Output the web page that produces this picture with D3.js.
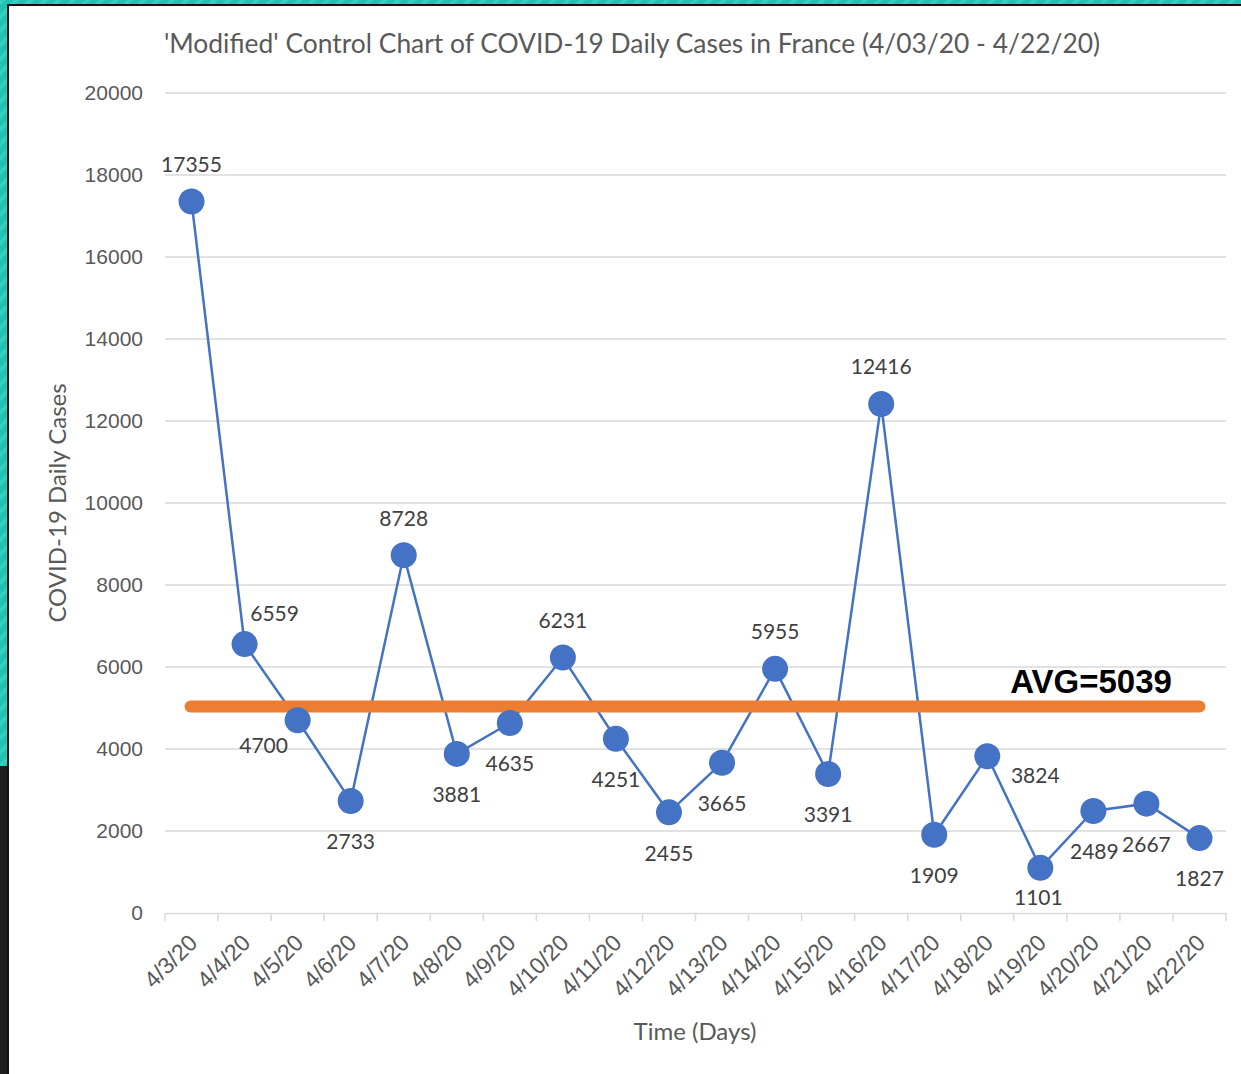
<!DOCTYPE html>
<html lang="en">
<head>
  <meta charset="UTF-8">
  <title>Control Chart COVID-19 France</title>
  <style>
    body { margin: 0; background: #fff; }
    svg { display: block; font-family: Lato, "Open Sans", sans-serif; }
    .grid line { stroke: #d9d9d9; stroke-width: 1.5; }
    .axis--y text { fill: #595959; font-size: 21px; }
    .axis--x text { fill: #595959; font-size: 23px; }
    .axis--x .domain { stroke: #d9d9d9; stroke-width: 1.5; }
    .tickmark { stroke: #d9d9d9; stroke-width: 1.5; }
    .series { fill: none; stroke: #4472c4; stroke-width: 2.5; }
    .dot { fill: #4472c4; }
    .valLabel { fill: #404040; font-size: 21px; text-anchor: middle; }
    .title { fill: #595959; font-size: 26.4px; text-anchor: middle; }
    .axTitle { fill: #595959; font-size: 24px; text-anchor: middle; }
    .avg { stroke: #ed7d31; stroke-width: 12; stroke-linecap: round; }
    .avgLabel { font-family: "Liberation Sans", Arial, sans-serif; font-weight: bold; font-size: 33px; fill: #000; text-anchor: middle; }
  </style>
  <script src="https://d3js.org/d3.v7.min.js"></script>
</head>
<body>
<div id="chart"></div>
<script>
/* global d3 */

var days = ["4/3/20", "4/4/20", "4/5/20", "4/6/20", "4/7/20", "4/8/20", "4/9/20",
  "4/10/20", "4/11/20", "4/12/20", "4/13/20", "4/14/20", "4/15/20", "4/16/20",
  "4/17/20", "4/18/20", "4/19/20", "4/20/20", "4/21/20", "4/22/20"];
var cases = [17355, 6559, 4700, 2733, 8728, 3881, 4635, 6231, 4251, 2455,
  3665, 5955, 3391, 12416, 1909, 3824, 1101, 2489, 2667, 1827];
var average = 5039;
var yTicks = [0, 2000, 4000, 6000, 8000, 10000, 12000, 14000, 16000, 18000, 20000];

// where each value label sits relative to its point (px)
var labelOffset = [[0, -37], [30, -30], [-34, 25], [0, 41], [0, -37], [0, 41], [0, 41],
  [0, -37], [0, 41], [0, 41], [0, 41], [0, -37], [0, 41], [0, -37],
  [0, 41], [48, 19], [-2, 30], [1, 41], [0, 41], [0, 41]];

var W = 1241, H = 1074;
var svg = d3.select("#chart").append("svg")
  .attr("width", W)
  .attr("height", H);

// frame: teal striped border with dark line
var defs = svg.append("defs");
var pat = defs.append("pattern")
  .attr("id", "stripes")
  .attr("patternUnits", "userSpaceOnUse")
  .attr("width", 10).attr("height", 10)
  .attr("patternTransform", "rotate(45)");
pat.append("rect").attr("width", 10).attr("height", 10).attr("fill", "#1fc2b3");
pat.append("rect").attr("width", 4).attr("height", 10).attr("fill", "#35cfc0");

svg.append("rect").attr("x", 0).attr("y", 0).attr("width", W).attr("height", 4)
  .attr("fill", "url(#stripes)");
svg.append("rect").attr("x", 0).attr("y", 0).attr("width", 7).attr("height", 766)
  .attr("fill", "url(#stripes)");
svg.append("rect").attr("x", 0).attr("y", 766).attr("width", 7).attr("height", H - 766)
  .attr("fill", "#1e1e1e");
svg.append("rect").attr("x", 7).attr("y", 4).attr("width", W - 7).attr("height", 2)
  .attr("fill", "#111");
svg.append("rect").attr("x", 7).attr("y", 4).attr("width", 2).attr("height", H - 4)
  .attr("fill", "#111");

var margin = {top: 93, left: 165, right: 15, bottom: 161};
var x = d3.scaleBand().domain(days).range([margin.left, W - margin.right]).padding(0);
var y = d3.scaleLinear().domain([0, 20000]).range([H - margin.bottom, margin.top]);

// gridlines
svg.append("g").attr("class", "grid")
  .selectAll("line")
  .data(yTicks.slice(1))
  .join("line")
  .attr("x1", margin.left).attr("x2", W - margin.right)
  .attr("y1", function (d) { return y(d); })
  .attr("y2", function (d) { return y(d); });

// y axis labels
var gy = svg.append("g").attr("class", "axis--y")
  .attr("transform", "translate(" + (margin.left - 22) + ",0)")
  .call(d3.axisLeft(y).tickValues(yTicks).tickFormat(d3.format("d")).tickSize(0).tickPadding(0));
gy.select(".domain").remove();

// x axis
var gx = svg.append("g").attr("class", "axis--x")
  .attr("transform", "translate(0," + y(0) + ")")
  .call(d3.axisBottom(x).tickSize(0).tickSizeOuter(0).tickPadding(0));
gx.selectAll(".tick text")
  .attr("text-anchor", "end")
  .attr("transform", "translate(-5,19) rotate(-45)")
  .attr("dy", "0.75em");

// boundary tick marks
var edges = days.map(function (d) { return x(d); }).concat([x(days[days.length - 1]) + x.bandwidth()]);
gx.selectAll(".tickmark")
  .data(edges)
  .join("line")
  .attr("class", "tickmark")
  .attr("x1", function (d) { return d; })
  .attr("x2", function (d) { return d; })
  .attr("y1", 0).attr("y2", 8);

var cx = function (d, i) { return x(days[i]) + x.bandwidth() / 2; };

// series line
svg.append("path")
  .attr("class", "series")
  .datum(cases)
  .attr("d", d3.line().x(cx).y(function (d) { return y(d); }));

// average line
svg.append("line")
  .attr("class", "avg")
  .attr("x1", cx(0, 0) - 1)
  .attr("x2", cx(0, days.length - 1))
  .attr("y1", y(average))
  .attr("y2", y(average));

svg.append("text")
  .attr("class", "avgLabel")
  .attr("x", 1091)
  .attr("y", y(average) - 13)
  .text("AVG=" + average);

// points
svg.append("g").selectAll("circle")
  .data(cases)
  .join("circle")
  .attr("class", "dot")
  .attr("cx", cx)
  .attr("cy", function (d) { return y(d); })
  .attr("r", 13);

// value labels
svg.append("g").selectAll("text")
  .data(cases)
  .join("text")
  .attr("class", "valLabel")
  .attr("x", function (d, i) { return cx(d, i) + labelOffset[i][0]; })
  .attr("y", function (d, i) { return y(d) + labelOffset[i][1]; })
  .attr("dy", "0.35em")
  .text(function (d) { return d; });

// titles
svg.append("text")
  .attr("class", "title")
  .attr("x", 632)
  .attr("y", 53)
  .text("'Modified' Control Chart of COVID-19 Daily Cases in France (4/03/20 - 4/22/20)");

svg.append("text")
  .attr("class", "axTitle")
  .attr("x", 695)
  .attr("y", 1040)
  .text("Time (Days)");

svg.append("text")
  .attr("class", "axTitle")
  .attr("transform", "translate(66,503) rotate(-90)")
  .text("COVID-19 Daily Cases");
</script>
</body>
</html>
